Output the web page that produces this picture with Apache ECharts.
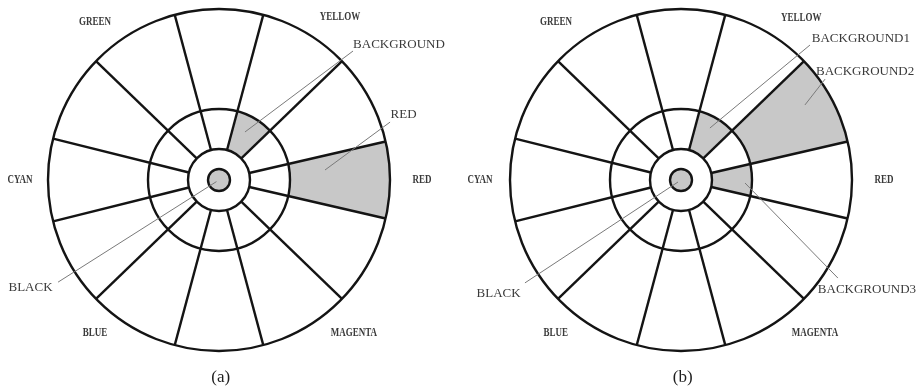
<!DOCTYPE html>
<html>
<head>
<meta charset="utf-8">
<title>Colour wheel regions</title>
<script src="https://cdn.jsdelivr.net/npm/echarts@6/dist/echarts.min.js"></script>
<style>
  html, body { margin: 0; padding: 0; background: #fff; }
  #chart { width: 921px; height: 392px; }
</style>
</head>
<body>
<div id="chart"></div>
<script>
// Wheel geometry (polar units: radius, angle in degrees counter-clockwise from +x)
const spokeAngles = [13, 44, 75, 105, 136, 166, 194, 224, 255, 285, 316, 347];
const ringRadii = [31, 71, 171];
const coreRadius = [11];
const hueNames = ['RED', 'YELLOW', 'GREEN', 'CYAN', 'BLUE', 'MAGENTA'];

// Diagram (a): shaded cells [r0, r1, a0, a1], callouts and their leader lines [rFrom, aFrom, rTo, aTo]
const shadedA = [[31, 71, 44, 75], [71, 171, -13, 13]];
const calloutNamesA = ['BACKGROUND', 'RED', 'BLACK'];
const leadersA = [[186, 43.9, 54.6, 61.6], [180.6, 18.7, 106.5, 5.4], [190.6, 212.4, 3, 212.4]];

// Diagram (b)
const shadedB = [[31, 71, 44, 75], [71, 171, 13, 44], [31, 71, -13, 13]];
const calloutNamesB = ['BACKGROUND1', 'BACKGROUND2', 'BACKGROUND3', 'BLACK'];
const leadersB = [[186.7, 46.3, 59.5, 60.9], [175.9, 35.0, 144.9, 31.2], [185, 328, 64.1, 357.3], [186.9, 213.4, 3.6, 214]];

// Text placement in polar units [radius, angle]
const hueLabelPolarA = [[203, 0], [203, 53.4], [201, 128.1], [199, 180], [197, 231], [204, 311.4]];
const hueLabelPolarB = [[203, 0], [202, 53.5], [201.5, 128.3], [201, 180], [197.6, 230.7], [203.4, 311.2]];
const calloutPolarA = [[225.3, 37.0], [195.8, 19.5], [217.2, 209.8]];
const calloutPolarB = [[228.6, 38.1], [213.9, 30.6], [215.6, 329.6], [214.6, 211.8]];
const captionPolar = [198, 270.5];

const LINE = '#141414';
const FILL = '#c8c8c8';
const LEADER = '#7a7a7a';
const TEXT = '#3a3a3a';
const STROKE_W = 2.4;

function screen(api, r, a) { return api.coord([r, a]); }
function pixelRadius(api, r) {
  const c = screen(api, 0, 0), p = screen(api, r, 0);
  return Math.hypot(p[0] - c[0], p[1] - c[1]);
}
function screenAngle(api, a) {
  const c = screen(api, 0, 0), p = screen(api, 100, a);
  return Math.atan2(p[1] - c[1], p[0] - c[0]);
}

function diagramSeries(polarIndex, shaded, leaders, callNames, callPos, huePos, caption) {
  const base = { type: 'custom', coordinateSystem: 'polar', polarIndex, silent: true, animation: false };
  return [
    // shaded wheel cells
    Object.assign({}, base, {
      z: 1,
      data: shaded,
      renderItem(params, api) {
        const c = screen(api, 0, 0);
        const s = screenAngle(api, api.value(3));
        const e = screenAngle(api, api.value(2));
        return {
          type: 'sector',
          shape: { cx: c[0], cy: c[1], r0: pixelRadius(api, api.value(0)), r: pixelRadius(api, api.value(1)),
                   startAngle: s, endAngle: e, clockwise: true },
          style: { fill: FILL }
        };
      }
    }),
    // black core
    Object.assign({}, base, {
      z: 2,
      data: coreRadius.map(r => [r, 0]),
      renderItem(params, api) {
        const c = screen(api, 0, 0);
        return { type: 'circle', shape: { cx: c[0], cy: c[1], r: pixelRadius(api, api.value(0)) },
                 style: { fill: FILL, stroke: LINE, lineWidth: STROKE_W } };
      }
    }),
    // ring outlines
    Object.assign({}, base, {
      z: 3,
      data: ringRadii.map(r => [r, 0]),
      renderItem(params, api) {
        const c = screen(api, 0, 0);
        return { type: 'circle', shape: { cx: c[0], cy: c[1], r: pixelRadius(api, api.value(0)) },
                 style: { fill: 'none', stroke: LINE, lineWidth: STROKE_W } };
      }
    }),
    // spokes from the hub to the rim
    Object.assign({}, base, {
      z: 3,
      data: spokeAngles.map(a => [ringRadii[0], a]),
      renderItem(params, api) {
        const a = api.value(1);
        const p0 = screen(api, ringRadii[0], a);
        const p1 = screen(api, ringRadii[ringRadii.length - 1], a);
        return { type: 'line', shape: { x1: p0[0], y1: p0[1], x2: p1[0], y2: p1[1] },
                 style: { stroke: LINE, lineWidth: STROKE_W } };
      }
    }),
    // callout leader lines
    Object.assign({}, base, {
      z: 4,
      data: leaders,
      renderItem(params, api) {
        const p0 = screen(api, api.value(0), api.value(1));
        const p1 = screen(api, api.value(2), api.value(3));
        return { type: 'line', shape: { x1: p0[0], y1: p0[1], x2: p1[0], y2: p1[1] },
                 style: { stroke: LEADER, lineWidth: 1 } };
      }
    }),
    // hue names round the rim
    Object.assign({}, base, {
      z: 5,
      data: huePos,
      renderItem(params, api) {
        const p = screen(api, api.value(0), api.value(1));
        return { type: 'text', x: p[0], y: p[1], scaleY: 1.3,
                 style: { text: hueNames[params.dataIndex], font: 'bold 9px "Liberation Serif"',
                          fill: TEXT, align: 'center', verticalAlign: 'middle' } };
      }
    }),
    // callout texts
    Object.assign({}, base, {
      z: 5,
      data: callPos,
      renderItem(params, api) {
        const p = screen(api, api.value(0), api.value(1));
        return { type: 'text', x: p[0], y: p[1],
                 style: { text: callNames[params.dataIndex], font: '13px "Liberation Serif"',
                          fill: TEXT, align: 'center', verticalAlign: 'middle' } };
      }
    }),
    // panel caption
    Object.assign({}, base, {
      z: 5,
      data: [captionPolar],
      renderItem(params, api) {
        const p = screen(api, api.value(0), api.value(1));
        return { type: 'text', x: p[0], y: p[1],
                 style: { text: caption, font: '17px "Liberation Serif"',
                          fill: '#1e1e1e', align: 'center', verticalAlign: 'middle' } };
      }
    })
  ];
}

const chart = echarts.init(document.getElementById('chart'), null, { renderer: 'canvas' });
const hiddenAngle = i => ({ polarIndex: i, type: 'value', min: 0, max: 360, startAngle: 0, clockwise: false, show: false });
const hiddenRadius = i => ({ polarIndex: i, type: 'value', min: 0, max: ringRadii[ringRadii.length - 1], show: false });

chart.setOption({
  backgroundColor: '#ffffff',
  animation: false,
  polar: [
    { center: [219, 180], radius: 171 },
    { center: [681, 180], radius: 171 }
  ],
  angleAxis: [hiddenAngle(0), hiddenAngle(1)],
  radiusAxis: [hiddenRadius(0), hiddenRadius(1)],
  series: [
    ...diagramSeries(0, shadedA, leadersA, calloutNamesA, calloutPolarA, hueLabelPolarA, '(a)'),
    ...diagramSeries(1, shadedB, leadersB, calloutNamesB, calloutPolarB, hueLabelPolarB, '(b)')
  ]
});
</script>
</body>
</html>
